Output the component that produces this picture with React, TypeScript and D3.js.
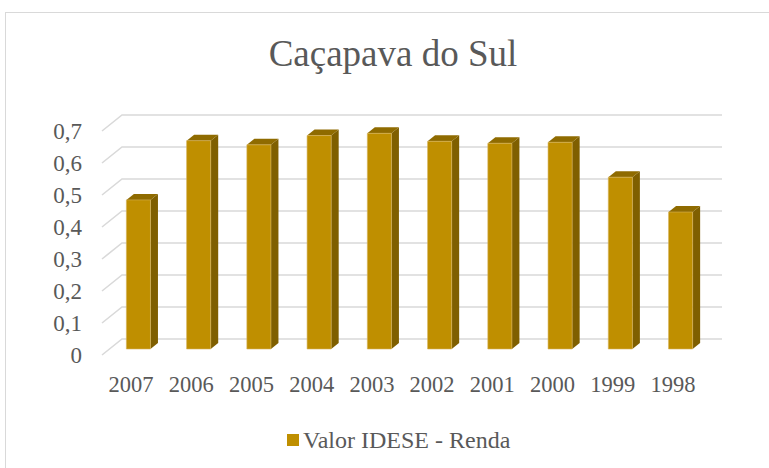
import React from 'react';
import * as d3 from 'd3';

const years = ['2007', '2006', '2005', '2004', '2003', '2002', '2001', '2000', '1999', '1998'];
const renda = [0.466, 0.651, 0.638, 0.667, 0.674, 0.649, 0.643, 0.646, 0.537, 0.428];
const yTicks = [0, 0.1, 0.2, 0.3, 0.4, 0.5, 0.6, 0.7];
const title = 'Caçapava do Sul';
const seriesName = 'Valor IDESE - Renda';

const W = 769;
const H = 468;
const FONT = "'Liberation Serif', 'Times New Roman', serif";
const GREY = '#595959';

// floor front edge scales; depth goes back / up-right
const x = d3.scaleBand<string>()
    .domain(years)
    .range([102, 702])
    .paddingInner(0.6)
    .paddingOuter(0.28);
const y = d3.scaleLinear().domain([0, 0.7]).range([355, 131]);
const depthX = 20, depthY = 16;
const proj = (px: number, v: number, d: number): [number, number] =>
    [px + depthX * d, y(v) - depthY * d];
const fmt = (t: number) => (t === 0 ? '0' : d3.format('.1f')(t).replace('.', ','));
const line = d3.line();
const poly = (pts: [number, number][]) => line(pts) + 'Z';

const App = () => {
    const bw = x.bandwidth();
    const d0 = 0.375, d1 = 0.75;

    return (
        <svg width={W} height={H} style={{ position: 'absolute', left: 0, top: 0, background: '#fff' }}>
            <rect x={5.5} y={12.5} width={800} height={500} fill="none" stroke="#d9d9d9" />

            <text x={393} y={66} textAnchor="middle" fill={GREY} style={{ fontFamily: FONT, fontSize: 37 }}>
                {title}
            </text>

            {/* side-wall diagonal + back-wall gridlines */}
            {yTicks.map((t) => (
                <path key={'g' + t}
                    d={line([proj(102, t, 0), proj(102, t, 1), proj(702, t, 1)]) || ''}
                    fill="none" stroke="#d9d9d9" strokeWidth={1.6} />
            ))}

            {yTicks.map((t) => (
                <text key={'y' + t} x={82} y={y(t) + 8} textAnchor="end" fill={GREY}
                    style={{ fontFamily: FONT, fontSize: 23 }}>
                    {fmt(t)}
                </text>
            ))}

            {years.map((yr, i) => {
                const v = renda[i];
                const x0 = x(yr)!;
                const x1 = x0 + bw;
                return (
                    <g key={yr}>
                        <path d={poly([proj(x1, 0, d0), proj(x1, 0, d1), proj(x1, v, d1), proj(x1, v, d0)])}
                            fill="#7f5f00" />
                        <path d={poly([proj(x0, v, d0), proj(x1, v, d0), proj(x1, v, d1), proj(x0, v, d1)])}
                            fill="#8f6b00" />
                        <path d={poly([proj(x0, 0, d0), proj(x1, 0, d0), proj(x1, v, d0), proj(x0, v, d0)])}
                            fill="#bf8f00" stroke="#d6b35c" strokeWidth={0.6} />
                    </g>
                );
            })}

            {years.map((yr) => (
                <text key={'x' + yr} x={x(yr)! + bw / 2} y={y(0) + 37} textAnchor="middle" fill={GREY}
                    style={{ fontFamily: FONT, fontSize: 22.5 }}>
                    {yr}
                </text>
            ))}

            {/* legend */}
            <rect x={287} y={434} width={12} height={12} fill="#bf8f00" />
            <text x={303} y={448} fill={GREY} style={{ fontFamily: FONT, fontSize: 24 }}>
                {seriesName}
            </text>
        </svg>
    );
};

export default App;
